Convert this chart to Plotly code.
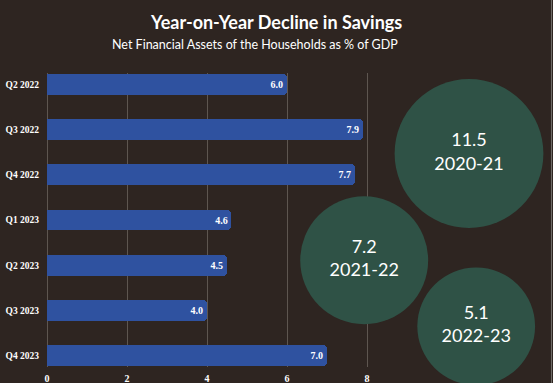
import plotly.graph_objects as go

# ---- data ----
quarters = ["Q2 2022", "Q3 2022", "Q4 2022", "Q1 2023", "Q2 2023", "Q3 2023", "Q4 2023"]
nfa_pct_gdp = [6.0, 7.9, 7.7, 4.6, 4.5, 4.0, 7.0]

fiscal_years = ["2020-21", "2021-22", "2022-23"]
annual_nfa = [11.5, 7.2, 5.1]

x_ticks = [0, 2, 4, 6, 8]

# ---- layout helpers (bubble placement, not data) ----
bubble_x_pos = [10.55, 7.93, 10.73]     # in bar-value axis units
bubble_y_pos = [1.53, 3.89, 5.35]       # in row units
bubble_diam = [93 + 4.85 * v for v in annual_nfa]

BG = "#2E2521"
BAR = "#2F52A0"
BUB = "#2F5246"
GRID = "#5E5650"

PLOT_W = 553 - 47
PLOT_H = 383 - 73 - 16

fig = go.Figure()

fig.add_trace(go.Bar(
    x=nfa_pct_gdp,
    y=quarters,
    orientation="h",
    width=0.46,
    marker=dict(color=BAR, line=dict(width=0)),
    text=[f"{v:.1f}" for v in nfa_pct_gdp],
    textposition="inside",
    insidetextanchor="end",
    textfont=dict(family="Liberation Serif", size=10, color="white", weight="bold"),
    hoverinfo="skip",
    showlegend=False,
))

fig.add_trace(go.Scatter(
    x=bubble_x_pos,
    y=bubble_y_pos,
    yaxis="y2",
    mode="markers+text",
    marker=dict(size=bubble_diam, sizemode="diameter", color=BUB, line=dict(width=0), opacity=1),
    text=[f"{v}<br>{fy}" for v, fy in zip(annual_nfa, fiscal_years)],
    textposition="middle center",
    textfont=dict(family="Lato", size=18, color="white"),
    cliponaxis=False,
    hoverinfo="skip",
    showlegend=False,
))

fig.update_layout(
    width=553,
    height=383,
    margin=dict(l=47, r=0, t=73, b=16, autoexpand=False),
    paper_bgcolor=BG,
    plot_bgcolor=BG,
    bargap=0,
    barcornerradius=4,
    xaxis=dict(
        range=[0, PLOT_W / 40],
        tickvals=x_ticks,
        ticktext=[str(t) for t in x_ticks],
        showgrid=True,
        gridcolor=GRID,
        gridwidth=1,
        zeroline=True,
        zerolinecolor=GRID,
        zerolinewidth=1,
        showline=False,
        ticks="outside",
        ticklen=2,
        tickcolor="rgba(0,0,0,0)",
        tickfont=dict(family="Liberation Serif", size=10, color="white", weight="bold"),
        automargin=False,
        fixedrange=True,
    ),
    yaxis=dict(
        type="category",
        categoryorder="array",
        categoryarray=quarters,
        range=[6.25, -0.25],
        showgrid=False,
        zeroline=False,
        showline=False,
        ticks="outside",
        ticklen=5,
        tickcolor="rgba(0,0,0,0)",
        tickfont=dict(family="Liberation Serif", size=9.5, color="white", weight="bold"),
        automargin=False,
        fixedrange=True,
    ),
    yaxis2=dict(
        overlaying="y",
        type="linear",
        range=[6.25, -0.25],
        visible=False,
        automargin=False,
        fixedrange=True,
    ),
    annotations=[
        dict(text="<b>Year-on-Year Decline in Savings</b>", xref="paper", yref="paper",
             x=(276 - 47) / PLOT_W, y=(367 - 22) / PLOT_H, xanchor="center", yanchor="middle",
             showarrow=False, font=dict(family="Lato", size=18, color="white")),
        dict(text="Net Financial Assets of the Households as % of GDP", xref="paper", yref="paper",
             x=(255 - 47) / PLOT_W, y=(367 - 44) / PLOT_H, xanchor="center", yanchor="middle",
             showarrow=False, font=dict(family="Lato", size=12.5, color="white")),
    ],
    shapes=[
        dict(type="line", xref="paper", yref="paper",
             x0=(551.5 - 47) / PLOT_W, x1=(551.5 - 47) / PLOT_W, y0=-16 / PLOT_H, y1=383 / PLOT_H,
             line=dict(color="#6E6A66", width=1)),
    ],
)

fig.write_html(
    "out.html",
    config={"displayModeBar": False},
    post_script="document.body.style.margin='0';document.body.style.overflow='hidden';",
)
